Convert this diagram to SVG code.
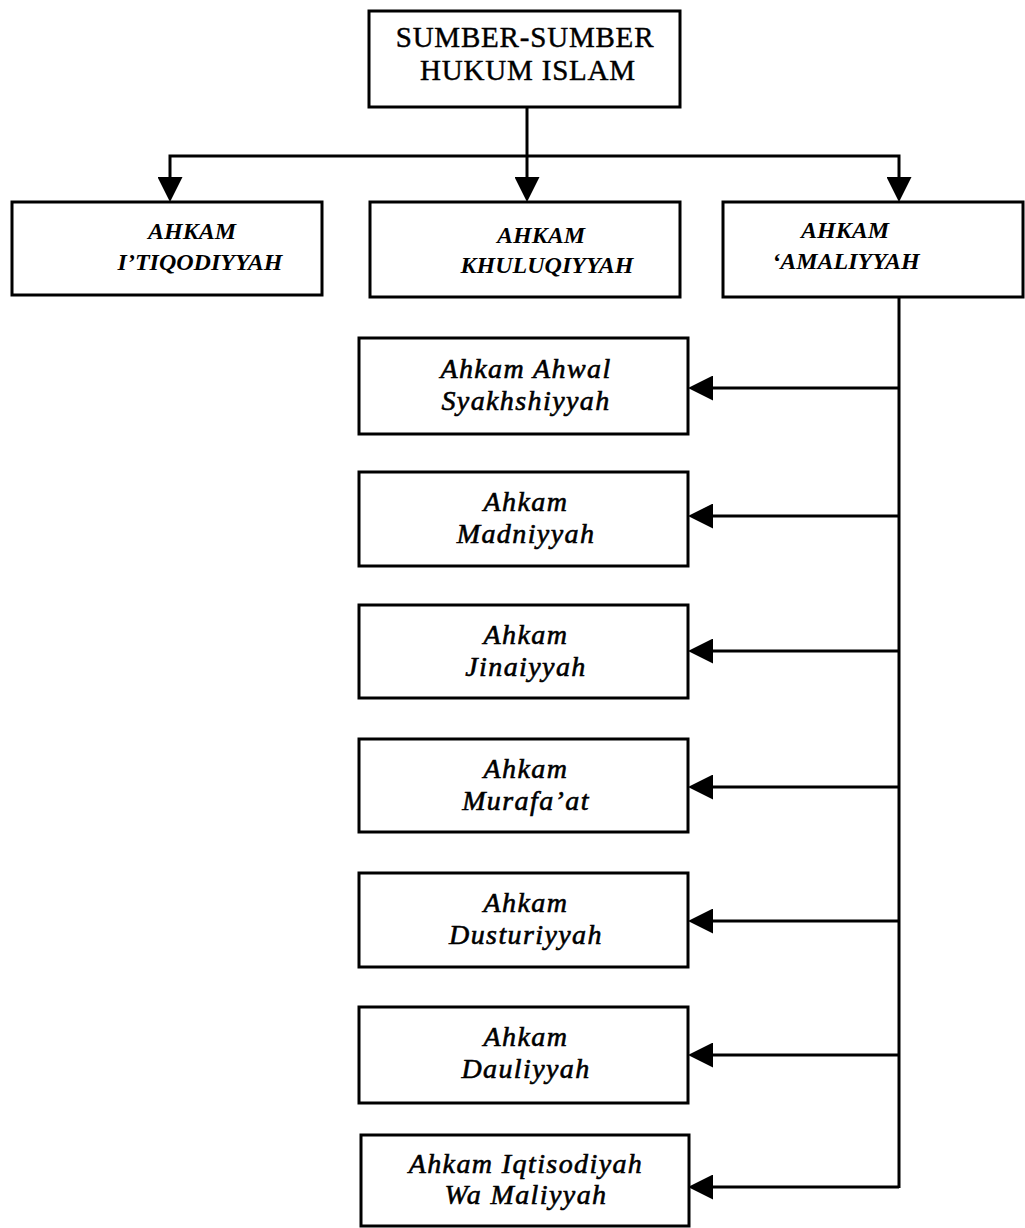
<svg xmlns="http://www.w3.org/2000/svg" width="1025" height="1228" viewBox="0 0 1025 1228">
  <style>
    .box { fill: #ffffff; stroke: #000000; stroke-width: 3; }
    .title { font-family: "Liberation Serif", "Times New Roman", serif; font-size: 29px; letter-spacing: 0.8px; fill: #000; stroke: #000; stroke-width: 0.4; text-anchor: middle; }
    .cat { font-family: "Liberation Serif", "Times New Roman", serif; font-size: 24px; font-style: italic; font-weight: bold; fill: #000; text-anchor: middle; }
    .sub { font-family: "Liberation Serif", "Times New Roman", serif; font-size: 28px; font-style: italic; letter-spacing: 1.4px; fill: #000; stroke: #000; stroke-width: 0.6; text-anchor: middle; }
    .conn { fill: none; stroke: #000000; stroke-width: 3; }
  </style>
  <defs>
    <marker id="arrow" viewBox="0 0 25 25" refX="15" refY="12.5" markerWidth="25" markerHeight="25" markerUnits="userSpaceOnUse" orient="auto">
      <path d="M0,0 L25,12.5 L0,25 Z" fill="#000000"/>
    </marker>
  </defs>
  <rect width="1025" height="1228" fill="#ffffff"/>

  <g id="connectors">
    <line class="conn" x1="527" y1="107" x2="527" y2="192" marker-end="url(#arrow)"/>
    <polyline class="conn" points="170,192 170,156 899,156 899,192"/>
    <line class="conn" x1="170" y1="180" x2="170" y2="192" marker-end="url(#arrow)"/>
    <line class="conn" x1="899" y1="180" x2="899" y2="192" marker-end="url(#arrow)"/>
    <line class="conn" x1="899" y1="297" x2="899" y2="1188"/>
    <line class="conn" x1="899" y1="388" x2="698" y2="388" marker-end="url(#arrow)"/>
    <line class="conn" x1="899" y1="516" x2="698" y2="516" marker-end="url(#arrow)"/>
    <line class="conn" x1="899" y1="651" x2="698" y2="651" marker-end="url(#arrow)"/>
    <line class="conn" x1="899" y1="787" x2="698" y2="787" marker-end="url(#arrow)"/>
    <line class="conn" x1="899" y1="921" x2="698" y2="921" marker-end="url(#arrow)"/>
    <line class="conn" x1="899" y1="1055" x2="698" y2="1055" marker-end="url(#arrow)"/>
    <line class="conn" x1="899" y1="1187" x2="698" y2="1187" marker-end="url(#arrow)"/>
  </g>

  <g id="sumber">
    <rect class="box" x="369" y="11" width="311" height="96"/>
    <text class="title" x="525" y="47">SUMBER-SUMBER</text>
    <text class="title" x="528" y="80">HUKUM ISLAM</text>
  </g>

  <g id="itiqodiyyah">
    <rect class="box" x="12" y="202" width="310" height="93"/>
    <text class="cat" x="192" y="239">AHKAM</text>
    <text class="cat" x="200" y="270">I’TIQODIYYAH</text>
  </g>

  <g id="khuluqiyyah">
    <rect class="box" x="370" y="202" width="310" height="95"/>
    <text class="cat" x="541" y="243">AHKAM</text>
    <text class="cat" x="547" y="273">KHULUQIYYAH</text>
  </g>

  <g id="amaliyyah">
    <rect class="box" x="723" y="202" width="300" height="95"/>
    <text class="cat" x="845" y="238">AHKAM</text>
    <text class="cat" x="846" y="269">‘AMALIYYAH</text>
  </g>

  <g id="ahwal">
    <rect class="box" x="359" y="338" width="329" height="96"/>
    <text class="sub" x="526" y="378">Ahkam Ahwal</text>
    <text class="sub" x="526" y="410">Syakhshiyyah</text>
  </g>

  <g id="madniyyah">
    <rect class="box" x="359" y="472" width="329" height="94"/>
    <text class="sub" x="526" y="511">Ahkam</text>
    <text class="sub" x="526" y="543">Madniyyah</text>
  </g>

  <g id="jinaiyyah">
    <rect class="box" x="359" y="605" width="329" height="93"/>
    <text class="sub" x="526" y="644">Ahkam</text>
    <text class="sub" x="526" y="676">Jinaiyyah</text>
  </g>

  <g id="murafaat">
    <rect class="box" x="359" y="739" width="329" height="93"/>
    <text class="sub" x="526" y="778">Ahkam</text>
    <text class="sub" x="526" y="810">Murafa’at</text>
  </g>

  <g id="dusturiyyah">
    <rect class="box" x="359" y="873" width="329" height="94"/>
    <text class="sub" x="526" y="912">Ahkam</text>
    <text class="sub" x="526" y="944">Dusturiyyah</text>
  </g>

  <g id="dauliyyah">
    <rect class="box" x="359" y="1007" width="329" height="96"/>
    <text class="sub" x="526" y="1046">Ahkam</text>
    <text class="sub" x="526" y="1078">Dauliyyah</text>
  </g>

  <g id="iqtisodiyah">
    <rect class="box" x="361" y="1135" width="328" height="91"/>
    <text class="sub" x="526" y="1173">Ahkam Iqtisodiyah</text>
    <text class="sub" x="526" y="1204">Wa Maliyyah</text>
  </g>
</svg>
